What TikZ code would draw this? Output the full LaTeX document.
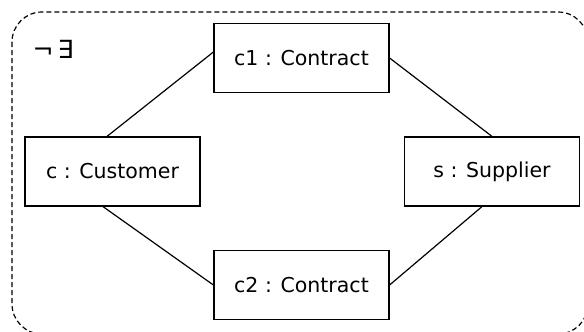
\documentclass[tikz,border=0pt]{standalone}
\usepackage{fontspec}
\setmainfont{DejaVu Sans}
\usetikzlibrary{calc}

\begin{document}
\begin{tikzpicture}[x=1pt, y=-1pt, line width=1.2pt,
  obj/.style={draw, minimum width=175pt, minimum height=69pt, inner sep=0pt,
    font=\fontsize{20.5}{23}\selectfont},
  frame/.style={dash pattern=on 5pt off 3pt, rounded corners=30pt}]
  \useasboundingbox (0,0) rectangle (584,332);
  \clip (0,0) rectangle (584,332);
  \draw[frame] (12,12) rectangle (588,334);
  \node[font=\fontsize{25}{27}\selectfont] (negex) at (53,49) {¬\,∃};

  \node[obj] (c1) at (301.5, 58) {c1 : Contract};
  \node[obj] (c)  at (112.5, 171.5) {c : Customer};
  \node[obj] (s)  at (492, 171.5) {s : Supplier};
  \node[obj] (c2) at (301.5, 285) {c2 : Contract};

  \draw ($(c1.west)+(0,-6)$) -- ($(c.north)+(-5.5,0)$);
  \draw (c1.east) -- (s.north);
  \draw ($(c.south)+(-9.5,0)$) -- (c2.west);
  \draw ($(s.south)+(-10,0)$) -- (c2.east);
\end{tikzpicture}
\end{document}
